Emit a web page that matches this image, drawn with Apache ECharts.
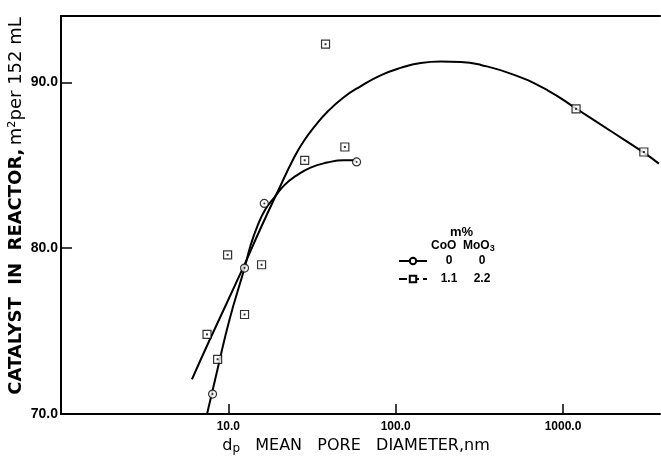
<!DOCTYPE html>
<html><head><meta charset="utf-8">
<script src="https://cdn.jsdelivr.net/npm/echarts@6/dist/echarts.min.js"></script>
<style>html,body{margin:0;padding:0;background:#fff}#c{width:661px;height:461px}</style>
</head><body><div id="c"></div>
<script>
const xTicks = [10, 100, 1000];
const yTicks = [70, 80, 90];
// measured points
const circleX = [8.05, 12.5, 16.4, 58.4];
const circleY = [71.2, 78.8, 82.7, 85.2];
const squareX = [7.46, 8.63, 9.9, 12.5, 15.8, 28.6, 38.1, 49.7, 1197, 3042];
const squareY = [74.8, 73.3, 79.6, 76.0, 79.0, 85.3, 92.3, 86.1, 88.4, 85.8];
// hand-drawn fit curves
const fit1X = [7.46, 8.6, 10.14, 12.5, 13.54, 14.92, 16.66, 18.86, 21.64, 25.19, 31.0, 39.0, 49.0, 57.6];
const fit1Y = [70.0, 72.65, 75.66, 78.8, 80.12, 81.33, 82.35, 83.07, 83.8, 84.34, 84.86, 85.16, 85.3, 85.3];
const fit2X = [6.06, 7.73, 12.2, 15.5, 19.9, 24.6, 28.2, 33.2, 39.0, 49.0, 61.7, 81.3, 107.2, 141.2, 186, 245, 323, 511, 809, 1197, 1938, 3042, 3741];
const fit2Y = [72.09, 74.46, 78.78, 81.14, 83.49, 85.42, 86.45, 87.41, 88.21, 89.1, 89.76, 90.42, 90.87, 91.16, 91.25, 91.23, 91.05, 90.45, 89.52, 88.42, 87.05, 85.76, 85.1];
// legend table
const legendCoO = ['0', '1.1'];
const legendMoO3 = ['0', '2.2'];

const zip = (a, b) => a.map((v, i) => [v, b[i]]);
const name1 = legendCoO[0] + '|' + legendMoO3[0];
const name2 = legendCoO[1] + '|' + legendMoO3[1];
const FONT = 'Liberation Sans';
const WIDE = 'DejaVu Sans';

const chart = echarts.init(document.getElementById('c'), null, {renderer: 'canvas'});
chart.setOption({
  backgroundColor: '#fff',
  animation: false,
  grid: {left: 61, right: 1, top: 16, bottom: 47, outerBoundsMode: 'none', containLabel: false},
  xAxis: [{
    type: 'log', logBase: 10, min: 1, max: 3800,
    axisLine: {show: true, lineStyle: {color: '#000', width: 2}},
    axisTick: {show: true, inside: true, length: 10, customValues: xTicks, lineStyle: {color: '#000', width: 1.5}},
    axisLabel: {customValues: xTicks, formatter: v => Number(v).toFixed(1), color: '#000', fontFamily: FONT, fontSize: 12, fontWeight: 'bold', margin: 7},
    splitLine: {show: false},
    name: '{t|d}{s|p}{t|   MEAN   PORE   DIAMETER,nm}',
    nameLocation: 'middle', nameGap: 22, nameMoveOverlap: false,
    nameTextStyle: {padding: [0, 9, 0, 0], rich: {
      t: {fontFamily: WIDE, fontSize: 16, color: '#000'},
      s: {fontFamily: WIDE, fontSize: 12, color: '#000', padding: [7, 0, 0, 0]}
    }}
  }, {
    type: 'log', logBase: 10, min: 1, max: 3800, position: 'top',
    axisLine: {show: true, lineStyle: {color: '#000', width: 2}},
    axisTick: {show: false}, axisLabel: {show: false}, splitLine: {show: false}
  }],
  yAxis: {
    type: 'value', min: 70, max: 94, interval: 10,
    axisLine: {show: true, lineStyle: {color: '#000', width: 2}},
    axisTick: {show: true, inside: true, length: 11, lineStyle: {color: '#000', width: 1.5}},
    axisLabel: {customValues: yTicks, formatter: v => Number(v).toFixed(1), color: '#000', fontFamily: FONT, fontSize: 14, fontWeight: 'bold', margin: 3},
    splitLine: {show: false},
    name: '{b|CATALYST  IN  REACTOR,} {n|m²per 152 mL}',
    nameLocation: 'middle', nameGap: 36, nameRotate: 90, nameMoveOverlap: false,
    nameTextStyle: {padding: [0, 0, 0, 18], rich: {
      b: {fontFamily: WIDE, fontSize: 18, fontWeight: 'bold', color: '#000'},
      n: {fontFamily: WIDE, fontSize: 18, color: '#000'}
    }}
  },
  legend: {
    left: 393, top: 250, orient: 'vertical', itemGap: 6, itemWidth: 28, itemHeight: 8,
    selectedMode: false,
    data: [
      {name: name1},
      {name: name2, lineStyle: {type: 'dashed'}}
    ],
    formatter: n => { const p = n.split('|'); return '{a|' + p[0] + '}{b|' + p[1] + '}'; },
    textStyle: {rich: {
      a: {width: 34, align: 'center', fontFamily: FONT, fontSize: 12, fontWeight: 'bold', color: '#000'},
      b: {width: 32, align: 'center', fontFamily: FONT, fontSize: 12, fontWeight: 'bold', color: '#000'}
    }}
  },
  graphic: [
    {type: 'text', left: 450, top: 226, style: {text: 'm%', font: 'bold 13px "Liberation Sans"', fill: '#000'}},
    {type: 'text', left: 431, top: 240, style: {
      text: '{a|CoO}  {a|MoO}{s|3}',
      rich: {a: {font: 'bold 12px "Liberation Sans"', fill: '#000'}, s: {font: 'bold 9px "Liberation Sans"', fill: '#000', padding: [5, 0, 0, 0]}}
    }}
  ],
  series: [
    {name: name1, type: 'line', smooth: 0.5, data: zip(fit1X, fit1Y), showSymbol: false, symbol: 'circle', symbolSize: 8,
      lineStyle: {color: '#000', width: 2}, itemStyle: {color: '#fff', borderColor: '#000', borderWidth: 1.2}, z: 2},
    {name: name2, type: 'line', smooth: 0.5, data: zip(fit2X, fit2Y), showSymbol: false, symbol: 'rect', symbolSize: 7,
      lineStyle: {color: '#000', width: 2}, itemStyle: {color: '#fff', borderColor: '#000', borderWidth: 1.2}, z: 2},
    {name: 'CoO 0 pts', type: 'scatter', data: zip(circleX, circleY), symbol: 'circle', symbolSize: 8,
      itemStyle: {color: '#fff', borderColor: '#000', borderWidth: 1.2}, z: 3},
    {name: 'CoO 1.1 pts', type: 'scatter', data: zip(squareX, squareY), symbol: 'rect', symbolSize: 8,
      itemStyle: {color: '#fff', borderColor: '#000', borderWidth: 1.2}, z: 3},
    {name: 'dots1', type: 'scatter', data: zip(circleX, circleY), symbol: 'circle', symbolSize: 2, itemStyle: {color: '#000'}, z: 4},
    {name: 'dots2', type: 'scatter', data: zip(squareX, squareY), symbol: 'rect', symbolSize: 2, itemStyle: {color: '#000'}, z: 4}
  ]
});
</script></body></html>
